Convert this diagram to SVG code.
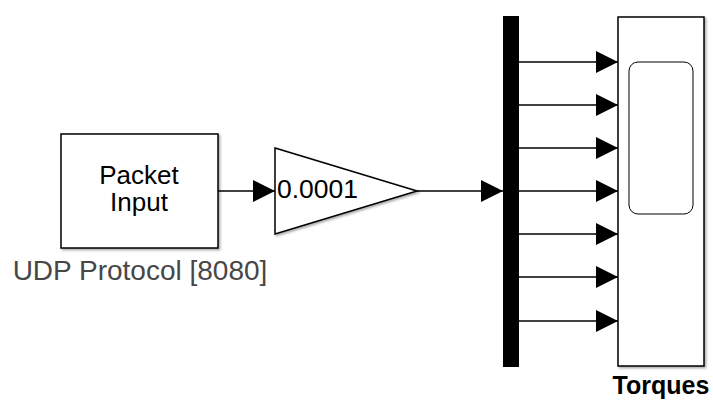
<svg xmlns="http://www.w3.org/2000/svg" width="713" height="401" viewBox="0 0 713 401">
  <defs>
    <marker id="arrow" viewBox="0 0 22 22" refX="22" refY="11" markerWidth="22" markerHeight="22" markerUnits="userSpaceOnUse" orient="auto">
      <path d="M0,0 L22,11 L0,22 Z" fill="#000"/>
    </marker>
    <filter id="shadow" x="-10%" y="-10%" width="130%" height="130%">
      <feDropShadow dx="1.5" dy="1.5" stdDeviation="1" flood-color="#000" flood-opacity="0.35"/>
    </filter>
  </defs>
  <style>
    .block { fill: #fff; stroke: #000; stroke-width: 1.5; }
    .wire { fill: none; stroke: #000; stroke-width: 1.3; marker-end: url(#arrow); }
    .label { font-family: "Liberation Sans", Arial, sans-serif; fill: #000; }
  </style>
  <rect width="713" height="401" fill="#fff"/>

  <!-- source block -->
  <g id="packet-input">
    <rect class="block" x="61" y="134" width="157" height="114" filter="url(#shadow)"/>
    <text class="label" x="139" y="184" font-size="26" text-anchor="middle">Packet</text>
    <text class="label" x="139" y="211" font-size="26" text-anchor="middle">Input</text>
    <text class="label" x="140" y="280" font-size="28" text-anchor="middle" style="fill:#474747">UDP Protocol [8080]</text>
  </g>

  <!-- gain block -->
  <g id="gain">
    <polygon class="block" points="275,148 417,191 275,234" filter="url(#shadow)"/>
    <text class="label" x="277" y="198" font-size="26.5">0.0001</text>
  </g>

  <!-- demux bar -->
  <g id="demux">
    <rect x="503" y="16" width="16" height="351" fill="#000"/>
  </g>

  <!-- scope -->
  <g id="torques">
    <rect class="block" x="618" y="17" width="86" height="349" filter="url(#shadow)"/>
    <rect x="629" y="62" width="64" height="152" rx="9" ry="9" fill="#fff" stroke="#000" stroke-width="1"/>
    <text class="label" x="661" y="394" font-size="25" font-weight="bold" text-anchor="middle">Torques</text>
  </g>

  <g id="connectors">
    <path class="wire" d="M218,191 H275"/>
    <path class="wire" d="M417,191 H503"/>
    <path class="wire" d="M519,62 H618"/>
    <path class="wire" d="M519,105 H618"/>
    <path class="wire" d="M519,148 H618"/>
    <path class="wire" d="M519,191 H618"/>
    <path class="wire" d="M519,234 H618"/>
    <path class="wire" d="M519,277 H618"/>
    <path class="wire" d="M519,321 H618"/>
  </g>
</svg>
